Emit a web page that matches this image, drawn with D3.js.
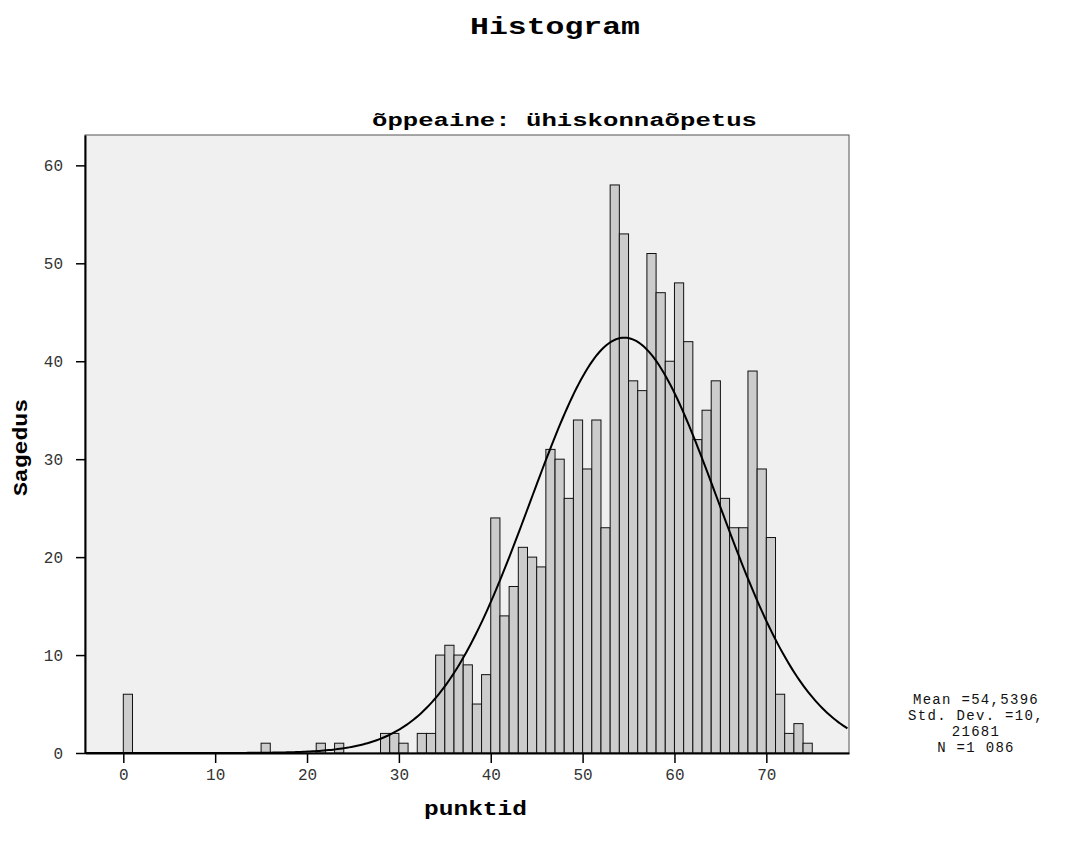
<!DOCTYPE html>
<html>
<head>
<meta charset="utf-8">
<script src="https://cdn.jsdelivr.net/npm/d3@7"></script>
<style>
  body { margin: 0; background: #fff; }
  text { font-family: "Liberation Mono", "DejaVu Sans Mono", monospace; }
</style>
</head>
<body>
<script>
'use strict';

// bin lower bounds (bin width 1) and frequencies
var binStarts = [0, 15, 21, 23, 28, 29, 30, 32, 33, 34, 35, 36, 37, 38, 39,
                 40, 41, 42, 43, 44, 45, 46, 47, 48, 49, 50, 51, 52, 53, 54,
                 55, 56, 57, 58, 59, 60, 61, 62, 63, 64, 65, 66, 67, 68, 69,
                 70, 71, 72, 73, 74];
var counts = [6, 1, 1, 1, 2, 2, 1, 2, 2, 10, 11, 10, 9, 5, 8,
              24, 14, 17, 21, 20, 19, 31, 30, 26, 34, 29, 34, 23, 58, 53,
              38, 37, 51, 47, 40, 48, 42, 32, 35, 38, 26, 23, 23, 39, 29,
              22, 6, 2, 3, 1];
var xTicks = [0, 10, 20, 30, 40, 50, 60, 70];
var yTicks = [0, 10, 20, 30, 40, 50, 60];
var statLines = ["Mean =54,5396", "Std. Dev. =10,", "21681", "N =1 086"];
var mean = 54.5396, sd = 10.21681, n = 1086, binWidth = 1;

var W = 1089, H = 846;
var plot = {left: 85, right: 849, top: 135, bottom: 753};

var svg = d3.select("body").append("svg")
    .attr("width", W)
    .attr("height", H);

var xScale = d3.scaleLinear().domain([-4.17, 79]).range([plot.left, plot.right]);
var yScale = d3.scaleLinear().domain([0, 63.1]).range([plot.bottom, plot.top]);

// plot background
svg.append("rect")
    .attr("x", plot.left).attr("y", plot.top)
    .attr("width", plot.right - plot.left).attr("height", plot.bottom - plot.top)
    .attr("fill", "#f0f0f0")
    .attr("stroke", "#555").attr("stroke-width", 1);

// bars
svg.selectAll("rect.bar")
    .data(binStarts)
    .enter()
    .append("rect")
    .attr("class", "bar")
    .attr("x", function(d) { return xScale(d); })
    .attr("width", function(d) { return xScale(d + binWidth) - xScale(d); })
    .attr("y", function(d, i) { return yScale(counts[i]); })
    .attr("height", function(d, i) { return yScale(0) - yScale(counts[i]); })
    .attr("fill", "#cccccc")
    .attr("stroke", "#111")
    .attr("stroke-width", 1);

// normal curve from the stated mean / sd / N
var curvePts = d3.range(-4.17, 79.01, 0.25).map(function(x) {
    var z = (x - mean) / sd;
    return [x, n * binWidth * Math.exp(-0.5 * z * z) / (sd * Math.sqrt(2 * Math.PI))];
});
svg.append("path")
    .datum(curvePts)
    .attr("fill", "none")
    .attr("stroke", "#000")
    .attr("stroke-width", 2)
    .attr("d", d3.line()
        .x(function(d) { return xScale(d[0]); })
        .y(function(d) { return yScale(d[1]); }));

// axes
svg.append("g")
    .attr("transform", "translate(0," + plot.bottom + ")")
    .call(d3.axisBottom(xScale).tickValues(xTicks).tickSizeInner(10).tickSizeOuter(0).tickPadding(6))
    .call(function(g) {
        g.select(".domain").attr("stroke", "#000").attr("stroke-width", 2);
        g.selectAll(".tick line").attr("stroke-width", 1.5);
        g.selectAll("text").attr("font-size", 16).attr("fill", "#333")
            .style("font-family", "'Liberation Mono', monospace");
    });

svg.append("g")
    .attr("transform", "translate(" + plot.left + ",0)")
    .call(d3.axisLeft(yScale).tickValues(yTicks).tickSizeInner(9).tickSizeOuter(0).tickPadding(13))
    .call(function(g) {
        g.select(".domain").attr("stroke", "#000").attr("stroke-width", 2);
        g.selectAll(".tick line").attr("stroke-width", 1.5);
        g.selectAll("text").attr("font-size", 16).attr("fill", "#333")
            .style("font-family", "'Liberation Mono', monospace");
    });

// titles
svg.append("text")
    .attr("x", 470).attr("y", 34)
    .attr("textLength", 170).attr("lengthAdjust", "spacingAndGlyphs")
    .attr("font-size", 24).attr("font-weight", "bold")
    .text("Histogram");

svg.append("text")
    .attr("x", 372).attr("y", 126)
    .attr("textLength", 385).attr("lengthAdjust", "spacingAndGlyphs")
    .attr("font-size", 18).attr("font-weight", "bold")
    .text("õppeaine: ühiskonnaõpetus");

svg.append("text")
    .attr("x", 424).attr("y", 815)
    .attr("textLength", 103).attr("lengthAdjust", "spacingAndGlyphs")
    .attr("font-size", 21).attr("font-weight", "bold")
    .text("punktid");

svg.append("text")
    .attr("transform", "translate(27,496) rotate(-90)")
    .attr("textLength", 97).attr("lengthAdjust", "spacingAndGlyphs")
    .attr("font-size", 21).attr("font-weight", "bold")
    .text("Sagedus");

// stats box
svg.append("g").selectAll("text")
    .data(statLines)
    .enter()
    .append("text")
    .attr("x", 976)
    .attr("y", function(d, i) { return 704 + i * 16; })
    .attr("text-anchor", "middle")
    .attr("font-size", 14)
    .attr("letter-spacing", 1.3)
    .attr("fill", "#111")
    .text(function(d) { return d; });
</script>
</body>
</html>
